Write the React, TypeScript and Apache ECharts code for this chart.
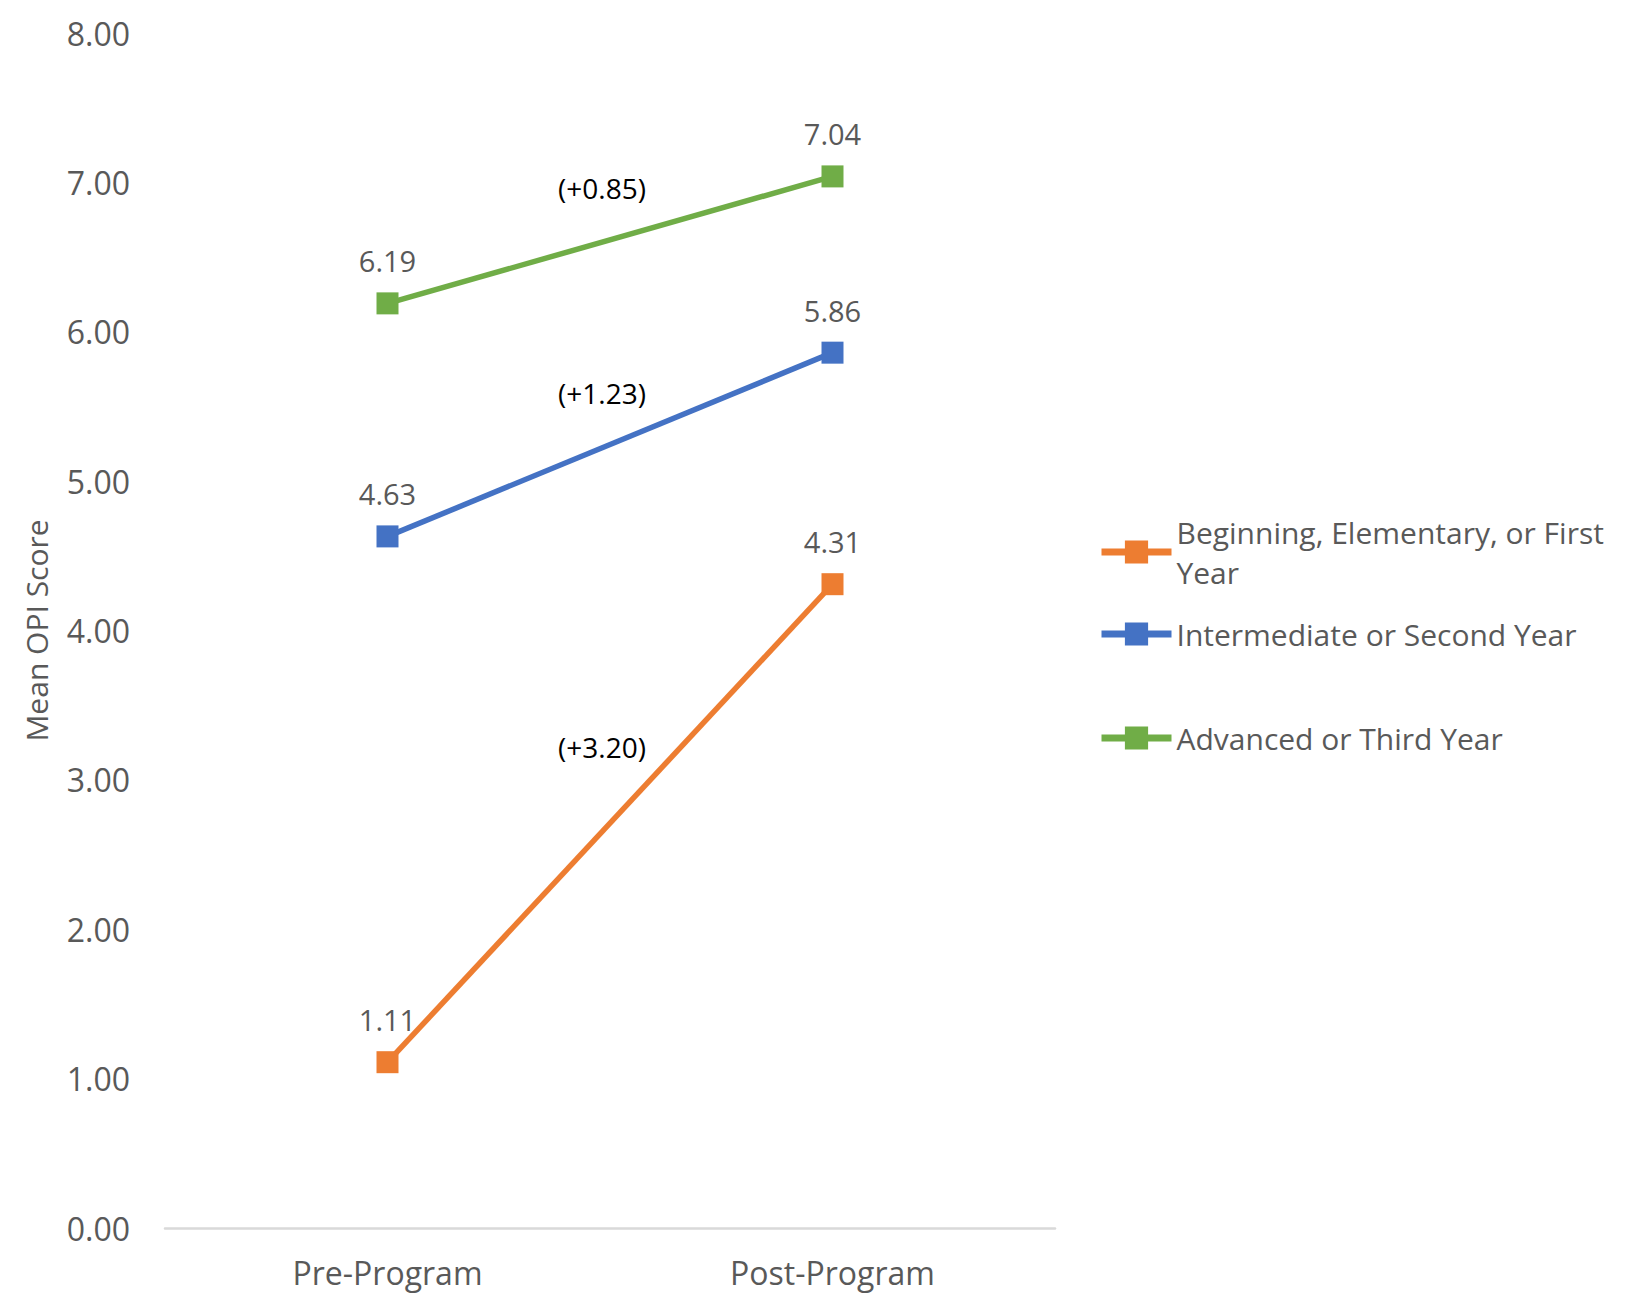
import React, { useEffect, useRef } from 'react';
import * as echarts from 'echarts';

// Categories on the x axis
const categories = ['Pre-Program', 'Post-Program'];

// Mean OPI score per learner level, pre and post program
const seriesNames = [
  'Beginning, Elementary, or First Year',
  'Intermediate or Second Year',
  'Advanced or Third Year',
];
const beginningScores = [1.11, 4.31];
const intermediateScores = [4.63, 5.86];
const advancedScores = [6.19, 7.04];

// Y axis range
const yMin = 0;
const yMax = 8;
const yInterval = 1;

const seriesColors = ['#ED7D31', '#4472C4', '#70AD47'];
// how far above the line midpoint each gain label sits (px)
const gainLabelLift = [76, 52, 52];

const TEXT_GREY = '#595959';
const FONT = '"Open Sans", "Noto Sans", sans-serif';

export default function App() {
  const ref = useRef<HTMLDivElement>(null);

  useEffect(() => {
    if (!ref.current) return;
    const chart = echarts.init(ref.current, undefined, { renderer: 'svg' });
    const allScores = [beginningScores, intermediateScores, advancedScores];

    const legendTops = [492, 614, 718];

    chart.setOption({
      animation: false,
      backgroundColor: '#ffffff',
      textStyle: { fontFamily: FONT },
      grid: { left: 165, right: 571, top: 33, bottom: 69 },
      xAxis: {
        type: 'category',
        data: categories,
        boundaryGap: true,
        axisLine: { lineStyle: { color: '#D9D9D9', width: 2.5 } },
        axisTick: { show: false },
        axisLabel: { fontSize: 32, color: TEXT_GREY, margin: 28, fontFamily: FONT },
      },
      yAxis: {
        type: 'value',
        min: yMin,
        max: yMax,
        interval: yInterval,
        name: 'Mean OPI Score',
        nameLocation: 'middle',
        nameGap: 114,
        nameTextStyle: { fontSize: 30, color: TEXT_GREY, fontFamily: FONT },
        axisLine: { show: false },
        axisTick: { show: false },
        splitLine: { show: false },
        axisLabel: {
          fontSize: 32,
          color: TEXT_GREY,
          margin: 35,
          fontFamily: FONT,
          formatter: (v: number) => v.toFixed(2),
        },
      },
      legend: seriesNames.map((name, i) => ({
        data: [name],
        orient: 'vertical',
        left: 1098,
        top: legendTops[i],
        padding: 0,
        itemWidth: 70,
        itemHeight: 29,
        itemGap: 0,
        selectedMode: false,
        lineStyle: { width: 7 },
        formatter: i === 0 ? (n: string) => n.replace(/ Year$/, '\nYear') : undefined,
        textStyle: {
          fontSize: 30,
          color: TEXT_GREY,
          fontFamily: FONT,
          lineHeight: 40,
          padding: i === 0 ? [40, 0, 0, 0] : [0, 0, 0, 0],
        },
      })),
      series: seriesNames.map((name, i) => ({
        name,
        type: 'line',
        data: allScores[i],
        symbol: 'rect',
        symbolSize: 22,
        color: seriesColors[i],
        lineStyle: { width: 5.5, color: seriesColors[i] },
        itemStyle: { color: seriesColors[i] },
        label: {
          show: true,
          position: 'top',
          distance: 17,
          fontSize: 29,
          color: TEXT_GREY,
          fontFamily: FONT,
          formatter: (p: any) => Number(p.value).toFixed(2),
        },
      })),
    });

    // gain labels between the two points of each line
    const graphics = allScores.map((scores, i) => {
      const p0 = chart.convertToPixel({ seriesIndex: i }, [0, scores[0]]) as number[];
      const p1 = chart.convertToPixel({ seriesIndex: i }, [1, scores[1]]) as number[];
      const gain = scores[1] - scores[0];
      return {
        type: 'text',
        x: (p0[0] + p1[0]) / 2 - 8,
        y: (p0[1] + p1[1]) / 2 - gainLabelLift[i],
        style: {
          text: `(+${gain.toFixed(2)})`,
          fontSize: 28,
          fill: '#000000',
          fontFamily: FONT,
          align: 'center',
          verticalAlign: 'middle',
        },
      };
    });
    chart.setOption({ graphic: graphics });

    return () => chart.dispose();
  }, []);

  return (
    <div
      ref={ref}
      style={{ position: 'fixed', left: 0, top: 0, width: 1626, height: 1297, background: '#fff' }}
    />
  );
}
